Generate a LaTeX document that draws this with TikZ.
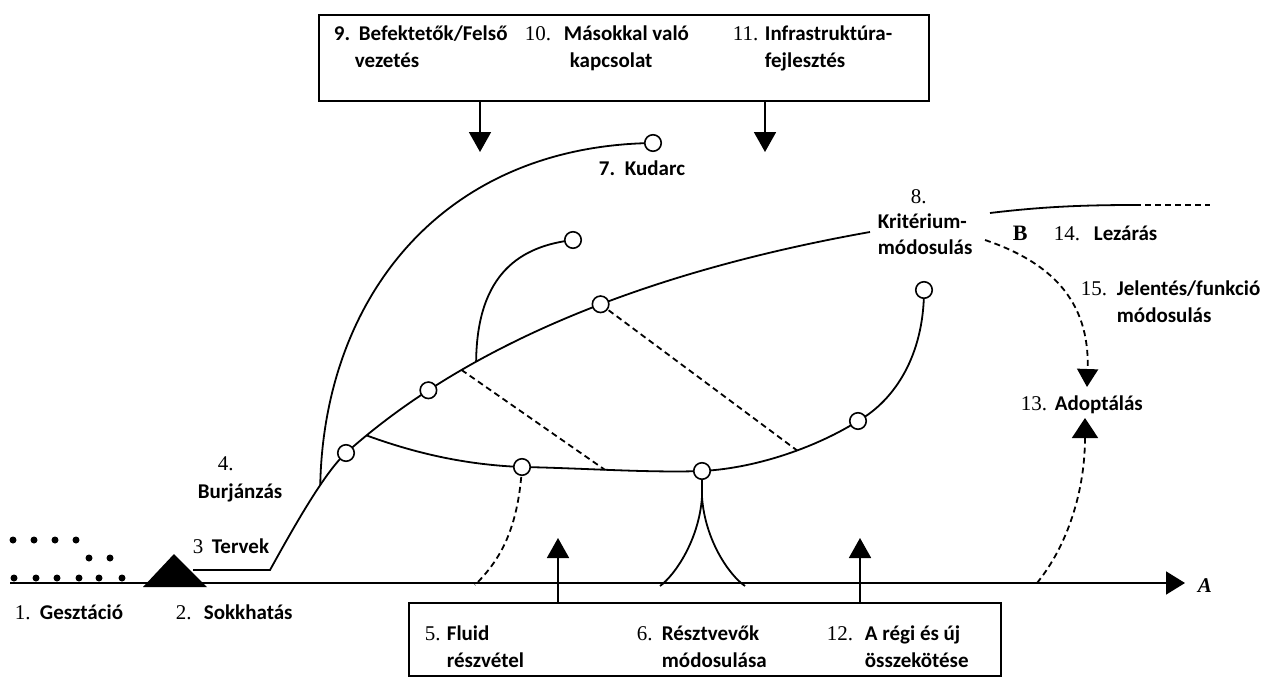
\documentclass[tikz,border=0pt]{standalone}
\usepackage{fontspec}
\setmainfont{Carlito}
\newfontfamily\nf{Liberation Serif}
\usetikzlibrary{arrows.meta}
\newcommand\numtxt[1]{{\nf\mdseries\fontsize{21}{23}\selectfont #1}}
\begin{document}
\begin{tikzpicture}[x=1pt,y=-1pt, line width=1.8pt,
  lbl/.style={anchor=base west, inner sep=0pt, font=\fontsize{21}{25}\selectfont\bfseries},
  circ/.style={circle, draw, fill=white, minimum size=16.5pt, inner sep=0pt, line width=1.6pt},
  dsh/.style={dash pattern=on 6pt off 4pt, line width=1.8pt},
  tip/.style={-{Triangle[width=22pt,length=20pt]}},
  boxs/.style={draw, line width=1.8pt, inner sep=0pt, anchor=north west},
  dotf/.style={circle, fill=black, minimum size=7pt, inner sep=0pt}]
\useasboundingbox (0,0) rectangle (1283,677);
% coordinates
\coordinate (ax0) at (10,583);
\coordinate (ax1) at (1185,583);
\coordinate (t0) at (193,570);
\coordinate (t1) at (270,570);
\coordinate (p1) at (346,453);
\coordinate (kr) at (870,232);
\coordinate (p7) at (653,143);
\coordinate (p7b) at (573,240);
\coordinate (p5) at (522,467);
\coordinate (p6) at (702,471);
\coordinate (p8) at (858,421);
\coordinate (p9) at (924,290);
% axis
\draw[-{Triangle[width=23pt,length=19pt]}] (ax0) -- (ax1);
\node[anchor=base west, inner sep=0pt, font=\nf\bfseries\itshape\fontsize{21}{23}\selectfont] (lA) at (1197,592) {A};
% dots
\foreach \x/\y [count=\i] in {13/540,34/540,55/540,76/540,89/558,110/558,14/578,36/578,57/578,79/578,99/578,122/578}
  \node[dotf] (dot\i) at (\x,\y) {};
% shock triangle
\fill (143,587) -- (174,554) -- (207,587) -- cycle;
% tervek and main curve
\draw (t0) -- (t1) .. controls (290,534) and (323.6,473) .. coordinate[pos=0.66] (b1) (p1);
\draw (p1) .. controls (480,333) and (673,267) ..
   coordinate[pos=0.05] (j1) coordinate[pos=0.19] (p2) coordinate[pos=0.26] (d1)
   coordinate[pos=0.29] (j2) coordinate[pos=0.53] (p3) (kr);
% kudarc arc
\draw (b1) .. controls (324,300) and (440,146) .. (p7);
% second branch
\draw (j2) .. controls (477,272) and (522,246) .. (p7b);
% lower curve
\draw (j1) .. controls (420,455) and (470,465) .. (p5)
      .. controls (580,468) and (650,473) .. coordinate[pos=0.45] (e1) (p6)
      .. controls (760,468) and (820,445) .. coordinate[pos=0.56] (e2) (p8)
      .. controls (895,400) and (924,355) .. (p9);
% cusp
\coordinate (cu) at (702,497);
\draw (p6) -- (cu);
\draw (cu) .. controls (699,540) and (675,575) .. (660,586);
\draw (cu) .. controls (705,540) and (729,575) .. (745,586);
% dashed
\draw[dsh] (d1) -- (e1);
\draw[dsh] (p3) -- (e2);
\draw[dsh] (p5) .. controls (518,530) and (500,560) .. (475,585);
% lezaras line
\coordinate (lz0) at (990,213);
\coordinate (lz1) at (1135,205);
\coordinate (lz2) at (1210,205);
\draw (lz0) .. controls (1040,207) and (1080,205) .. (lz1);
\draw[dsh] (lz1) -- (lz2);
% adoptalas arrows
\coordinate (ad1) at (1087,387);
\coordinate (ad2) at (1085,418);
\coordinate (kd) at (985,240);
\coordinate (axd) at (1037,583);
\draw[dsh, -{Triangle[width=21pt,length=18pt]}] (kd) .. controls (1050,262) and (1090,300) .. (ad1);
\draw[dsh, -{Triangle[width=26pt,length=20pt]}] (axd) .. controls (1068,545) and (1085,490) .. (ad2);
% circles
\foreach \c in {p1,p2,p3,p7,p7b,p5,p6,p8,p9}
  \node[circ] (c\c) at (\c) {};
% top box
\node[boxs, minimum width=610pt, minimum height=86pt] (topbox) at (318,14) {};
\coordinate (a9) at (480,152);
\coordinate (a11) at (765,152);
\draw[tip] (topbox.south -| a9) -- (a9);
\draw[tip] (topbox.south -| a11) -- (a11);
% bottom box
\node[boxs, minimum width=592pt, minimum height=73pt] (botbox) at (408,602) {};
\coordinate (a5) at (558,538);
\coordinate (a12) at (860,538);
\draw[tip] (botbox.north -| a5) -- (a5);
\draw[tip] (botbox.north -| a12) -- (a12);
% labels
\node[lbl] (l1n) at (14,619) {\numtxt{1.}};
\node[lbl] (l1) at (39,619) {Gesztáció};
\node[lbl] (l2n) at (175,619) {\numtxt{2.}};
\node[lbl] (l2) at (203,619) {Sokkhatás};
\node[lbl] (l3n) at (192,553) {\numtxt{3}};
\node[lbl] (l3) at (211,553) {Tervek};
\node[lbl] (l4a) at (217,470) {\numtxt{4.}};
\node[lbl] (l4b) at (197,498) {Burjánzás};
\node[lbl] (l7) at (598,175) {7.};
\node[lbl] (l7b) at (624,175) {Kudarc};
\node[lbl] (l8a) at (910,203) {\numtxt{8.}};
\node[lbl] (l8b) at (877,228) {Kritérium-};
\node[lbl] (l8c) at (877,254) {módosulás};
\node[anchor=base west, inner sep=0pt, font=\nf\bfseries\fontsize{22}{24}\selectfont] (lB) at (1012,240) {B};
\node[lbl] (l14n) at (1053,240) {\numtxt{14.}};
\node[lbl] (l14) at (1093,240) {Lezárás};
\node[lbl] (l15n) at (1080,295) {\numtxt{15.}};
\node[lbl] (l15a) at (1116,295) {Jelentés/funkció};
\node[lbl] (l15b) at (1116,322) {módosulás};
\node[lbl] (l13n) at (1020,410) {\numtxt{13.}};
\node[lbl] (l13) at (1054,410) {Adoptálás};
\node[lbl] (l9n) at (333,41) {9.};
\node[lbl] (l9a) at (358,41) {Befektetők/Felső};
\node[lbl] (l9b) at (354,68) {vezetés};
\node[lbl] (l10n) at (524,41) {\numtxt{10.}};
\node[lbl] (l10a) at (563,41) {Másokkal való};
\node[lbl] (l10b) at (569,68) {kapcsolat};
\node[lbl] (l11n) at (732,41) {\numtxt{11.}};
\node[lbl] (l11a) at (764,41) {Infrastruktúra-};
\node[lbl] (l11b) at (764,68) {fejlesztés};
\node[lbl] (l5n) at (424,640) {\numtxt{5.}};
\node[lbl] (l5a) at (446,640) {Fluid};
\node[lbl] (l5b) at (446,667) {részvétel};
\node[lbl] (l6n) at (636,640) {\numtxt{6.}};
\node[lbl] (l6a) at (661,640) {Résztvevők};
\node[lbl] (l6b) at (661,667) {módosulása};
\node[lbl] (l12n) at (826,640) {\numtxt{12.}};
\node[lbl] (l12a) at (864,640) {A régi és új};
\node[lbl] (l12b) at (864,667) {összekötése};
\end{tikzpicture}
\end{document}
